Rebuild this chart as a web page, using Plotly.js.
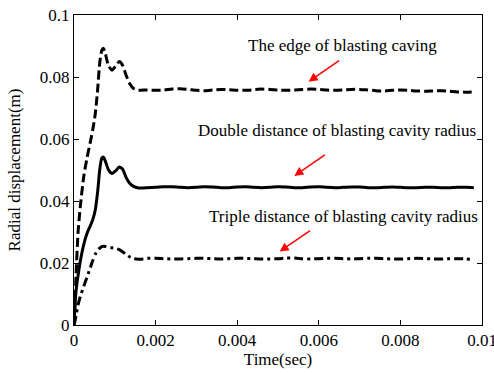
<!DOCTYPE html>
<html>
<head>
<meta charset="utf-8">
<script src="https://cdn.plot.ly/plotly-3.0.1.min.js"></script>
<style>html,body{margin:0;padding:0;background:#fff;overflow:hidden;}#chart{width:494px;height:373px;}</style>
</head>
<body>
<div id="chart"></div>
<script>
// Time (sec)
var time = [0, 0.00002, 0.00005, 0.0001, 0.00016, 0.00024, 0.00032, 0.0004, 0.00046, 0.00052, 0.00058, 0.00063, 0.00068, 0.00072, 0.00077, 0.00084, 0.00093, 0.00102, 0.00111, 0.00119, 0.00127, 0.00136, 0.00146, 0.00158, 0.0017,
  0.0018, 0.002, 0.0022, 0.0024, 0.0026, 0.0028, 0.003, 0.0032, 0.0034, 0.0036, 0.0038, 0.004, 0.0042, 0.0044, 0.0046, 0.0048, 0.005, 0.0052, 0.0054, 0.0056, 0.0058, 0.006, 0.0062, 0.0064, 0.0066, 0.0068, 0.007, 0.0072, 0.0074, 0.0076, 0.0078, 0.008, 0.0082, 0.0084, 0.0086, 0.0088, 0.009, 0.0092, 0.0094, 0.0096, 0.0098];

// The edge of blasting caving
var edge = [0, 0.006, 0.016, 0.030, 0.039, 0.048, 0.054, 0.059, 0.063, 0.068, 0.076, 0.0845, 0.0885, 0.0893, 0.0875, 0.0838, 0.0822, 0.0835, 0.0850, 0.0838, 0.0808, 0.0780, 0.0763, 0.0757, 0.0758,
  0.0758, 0.0757, 0.0758, 0.0761, 0.0762, 0.0760, 0.0757, 0.0756, 0.0758, 0.0760, 0.0759, 0.0757, 0.0757, 0.0759, 0.0761, 0.0760, 0.0758, 0.0757, 0.0758, 0.0760, 0.0761, 0.0760, 0.0758, 0.0757, 0.0758, 0.0760, 0.0760, 0.0758, 0.0756, 0.0755, 0.0757, 0.0758, 0.0757, 0.0755, 0.0754, 0.0755, 0.0756, 0.0754, 0.0752, 0.0751, 0.0752];

// Double distance of blasting cavity radius
var double2 = [0, 0.005, 0.011, 0.016, 0.021, 0.026, 0.0296, 0.032, 0.034, 0.037, 0.043, 0.050, 0.0538, 0.0542, 0.0528, 0.0502, 0.0489, 0.0497, 0.0510, 0.0503, 0.0478, 0.0458, 0.0447, 0.0442, 0.0442,
  0.0443, 0.0444, 0.0446, 0.0446, 0.0444, 0.0443, 0.0444, 0.0446, 0.0445, 0.0443, 0.0443, 0.0445, 0.0446, 0.0444, 0.0443, 0.0444, 0.0446, 0.0445, 0.0443, 0.0443, 0.0445, 0.0446, 0.0444, 0.0443, 0.0444, 0.0445, 0.0445, 0.0443, 0.0443, 0.0444, 0.0445, 0.0444, 0.0443, 0.0443, 0.0444, 0.0444, 0.0443, 0.0443, 0.0444, 0.0444, 0.0443];

// Triple distance of blasting cavity radius
var triple3 = [0, 0.001, 0.003, 0.0065, 0.0095, 0.0125, 0.0155, 0.0185, 0.0208, 0.0228, 0.0240, 0.0248, 0.0253, 0.0254, 0.0253, 0.0250, 0.0249, 0.0247, 0.0243, 0.0236, 0.0229, 0.0220, 0.0214, 0.0212, 0.0213,
  0.0215, 0.0215, 0.0214, 0.0213, 0.0213, 0.0214, 0.0215, 0.0215, 0.0214, 0.0213, 0.0214, 0.0215, 0.0215, 0.0214, 0.0213, 0.0213, 0.0214, 0.0216, 0.0216, 0.0214, 0.0213, 0.0214, 0.0215, 0.0215, 0.0214, 0.0213, 0.0214, 0.0215, 0.0215, 0.0214, 0.0213, 0.0213, 0.0214, 0.0215, 0.0214, 0.0213, 0.0213, 0.0214, 0.0214, 0.0213, 0.0212];

var xTickVals = [0, 0.002, 0.004, 0.006, 0.008, 0.01];
var xTickText = ["0", "0.002", "0.004", "0.006", "0.008", "0.01"];
var yTickVals = [0, 0.02, 0.04, 0.06, 0.08, 0.1];
var yTickText = ["0", "0.02", "0.04", "0.06", "0.08", "0.1"];

var labels = ["The edge of blasting caving", "Double distance of blasting cavity radius", "Triple distance of blasting cavity radius"];
var labelX = [0.00658, 0.00645, 0.00660];
var labelY = [0.0902, 0.0627, 0.0350];
var arrowX = [0.00575, 0.00540, 0.00504];
var arrowY = [0.0785, 0.0481, 0.0237];

var F = "'Liberation Serif', 'Times New Roman', serif";
var FS = 17;

var traces = [
  {x: time, y: edge, mode: 'lines', line: {color: '#000', width: 3, dash: '9px,4px', shape: 'spline', smoothing: 0.6}, name: labels[0]},
  {x: time, y: double2, mode: 'lines', line: {color: '#000', width: 3, shape: 'spline', smoothing: 0.6}, name: labels[1]},
  {x: time, y: triple3, mode: 'lines', line: {color: '#000', width: 3, dash: '9px,4px,3px,4px', shape: 'spline', smoothing: 0.6}, name: labels[2]}
];

var annotations = [];
for (var i = 0; i < labels.length; i++) {
  annotations.push({x: labelX[i], y: labelY[i], xref: 'x', yref: 'y', text: labels[i], showarrow: false,
    font: {family: F, size: FS, color: '#000'}, xanchor: 'center', yanchor: 'middle'});
  annotations.push({x: arrowX[i], y: arrowY[i], xref: 'x', yref: 'y', text: '', showarrow: true,
    ax: 32, ay: -22, arrowhead: 2, arrowsize: 1.2, arrowwidth: 1.5, arrowcolor: '#ff0000'});
}

var layout = {
  width: 494, height: 373,
  margin: {l: 73.5, r: 12, t: 15, b: 48},
  paper_bgcolor: '#fff', plot_bgcolor: '#fff',
  showlegend: false,
  font: {family: F, size: FS, color: '#000'},
  xaxis: {range: [0, 0.01], tickmode: 'array', tickvals: xTickVals, ticktext: xTickText, ticks: 'inside', ticklen: 5, tickcolor: '#000',
    showline: true, linecolor: '#000', linewidth: 1, mirror: 'ticks', showgrid: false, zeroline: false,
    ticklabeloverflow: 'allow',
    tickfont: {family: F, size: FS, color: '#000'},
    title: {text: 'Time(sec)', font: {family: F, size: FS, color: '#000'}, standoff: 2}},
  yaxis: {range: [0, 0.1], tickmode: 'array', tickvals: yTickVals, ticktext: yTickText, ticks: 'inside', ticklen: 5, tickcolor: '#000',
    showline: true, linecolor: '#000', linewidth: 1, mirror: 'ticks', showgrid: false, zeroline: false,
    ticklabeloverflow: 'allow',
    tickfont: {family: F, size: FS, color: '#000'},
    title: {text: 'Radial displacement(m)', font: {family: F, size: FS, color: '#000'}, standoff: 14}},
  annotations: annotations
};

Plotly.newPlot('chart', traces, layout, {staticPlot: true, displayModeBar: false});
</script>
</body>
</html>
